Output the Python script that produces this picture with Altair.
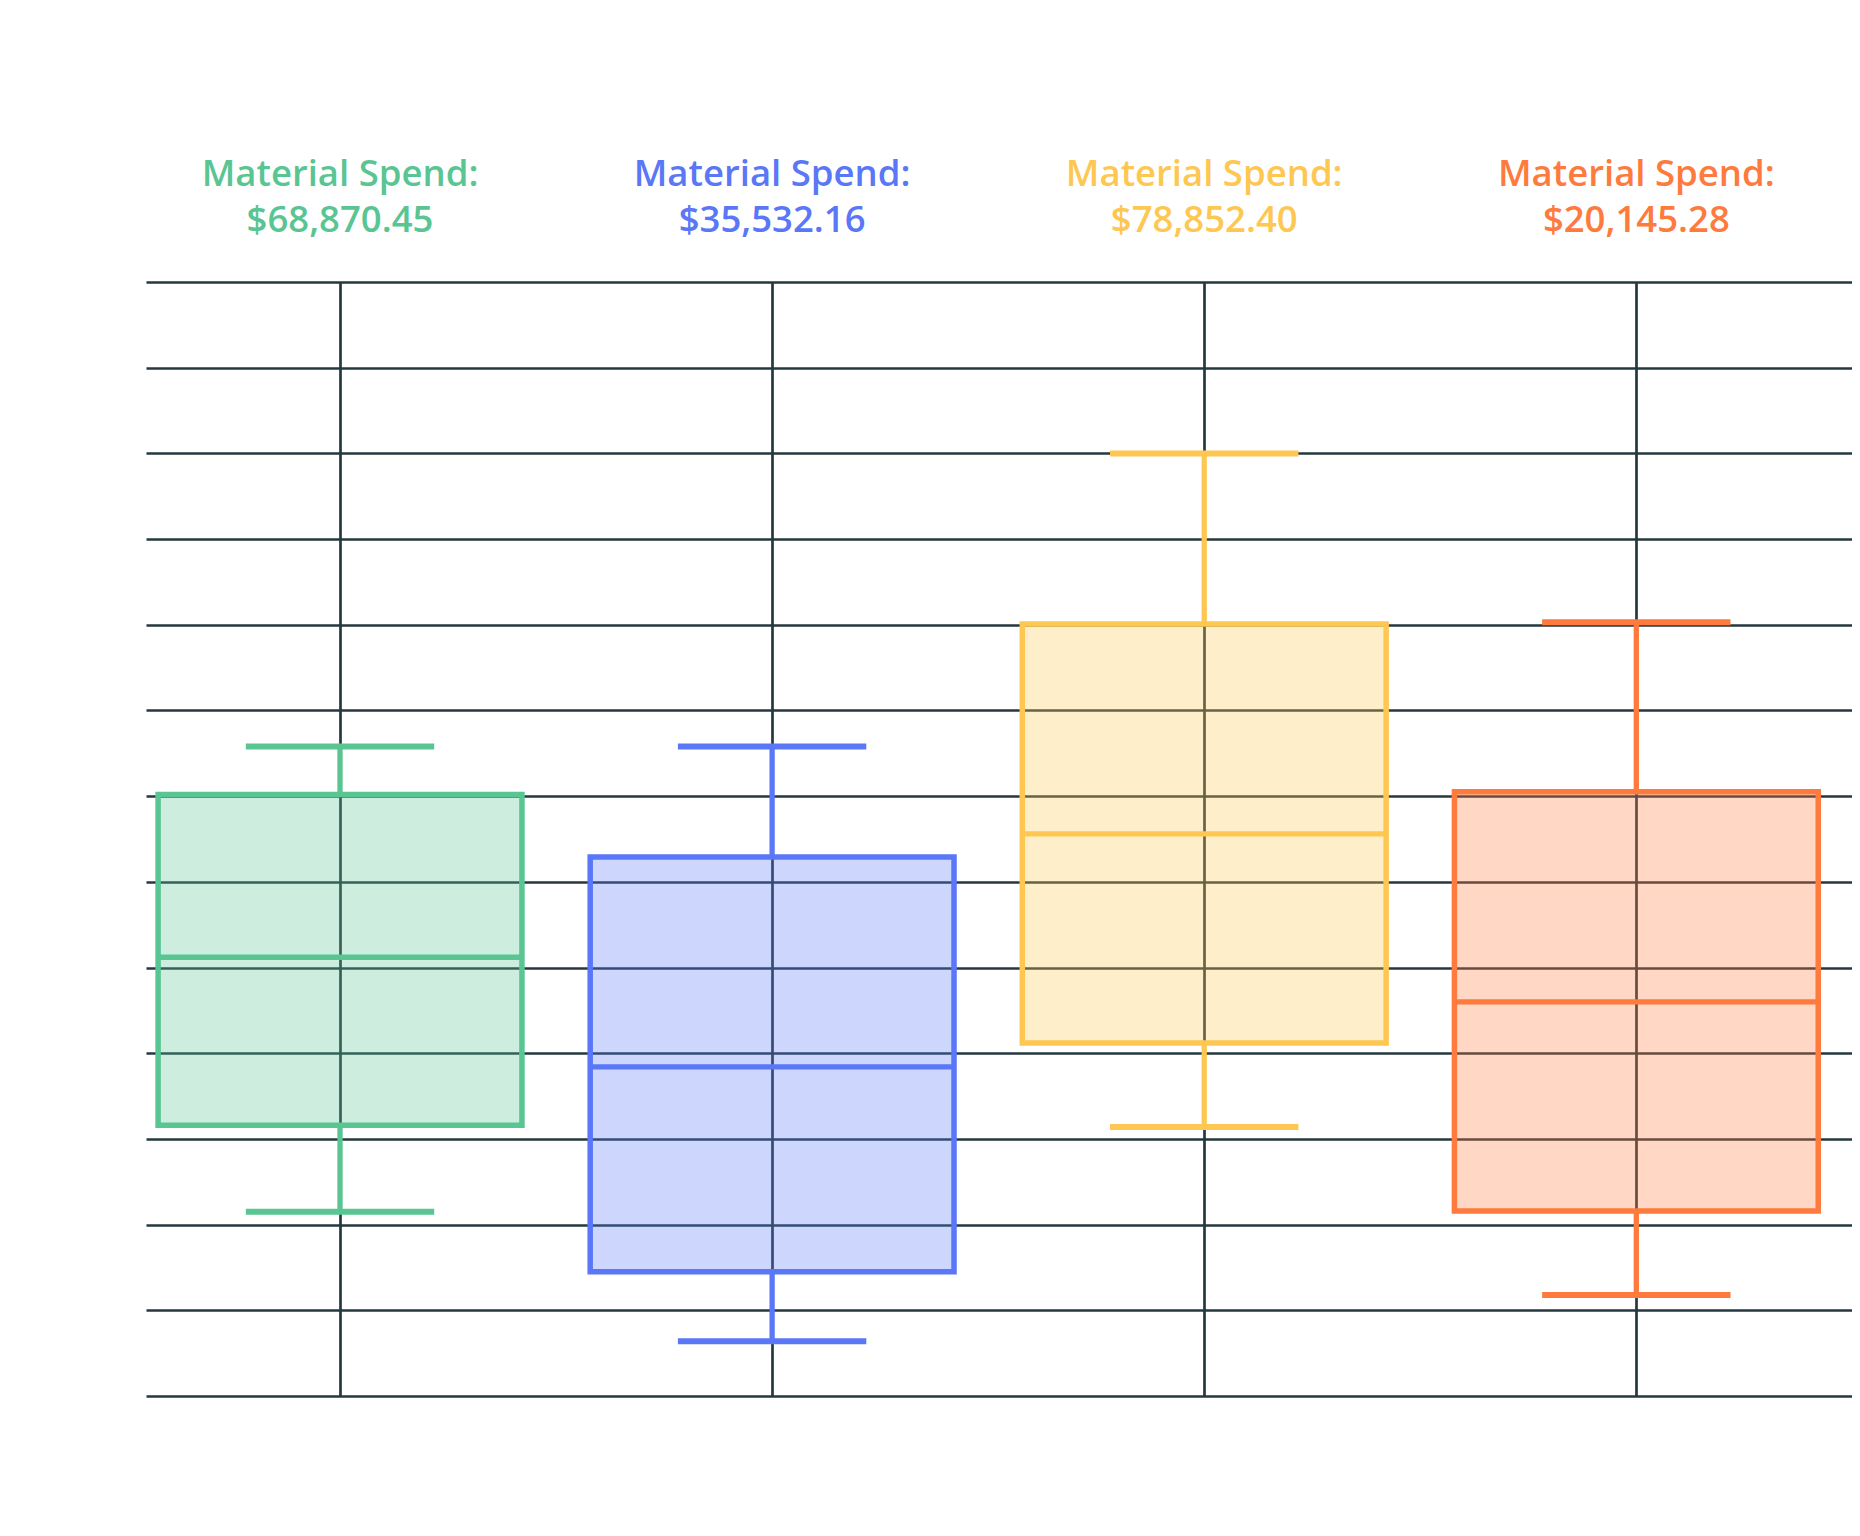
import altair as alt
import pandas as pd

# ---- data (grid units x10) ----
groups = ["Group A", "Group B", "Group C", "Group D"]
positions = [0, 1, 2, 3]
spend_labels = ["$68,870.45", "$35,532.16", "$78,852.40", "$20,145.28"]
mins = [21.5, 6.4, 31.4, 11.8]
q1s = [31.6, 14.5, 41.2, 21.6]
medians = [51.2, 38.4, 65.6, 46.0]
q3s = [70.2, 62.9, 90.1, 70.5]
maxs = [75.8, 75.8, 110.0, 90.3]
colors = ["#59C593", "#5A77F7", "#FEC751", "#FE7A3D"]
grid_values_y = list(range(0, 131, 10))

df = pd.DataFrame({
    "group": groups,
    "idx": positions,
    "spend": spend_labels,
    "min": mins,
    "q1": q1s,
    "median": medians,
    "q3": q3s,
    "max": maxs,
})

GRID = "#25383F"
PLOT_W = 1706
x_scale = alt.Scale(domain=[-0.449, -0.449 + PLOT_W / 432.1], nice=False, zero=False)
y_scale = alt.Scale(domain=[0, 130], nice=False, zero=True)
x_axis = alt.Axis(values=positions, grid=True, labels=False, ticks=False,
                  domain=False, title=None)
y_axis = alt.Axis(values=grid_values_y, grid=True, labels=False, ticks=False,
                  domain=False, title=None)

col = alt.Color("group:N", scale=alt.Scale(domain=groups, range=colors), legend=None)
stk = alt.Stroke("group:N", scale=alt.Scale(domain=groups, range=colors), legend=None)

base = alt.Chart(df).transform_calculate(
    lo="datum.idx - 0.421", hi="datum.idx + 0.421",
    clo="datum.idx - 0.218", chi="datum.idx + 0.218",
    line1="'Material Spend:'",
)

lower_whisker = base.mark_rule(strokeWidth=5.3).encode(
    x=alt.X("idx:Q", scale=x_scale, axis=x_axis),
    y=alt.Y("min:Q", scale=y_scale, axis=y_axis),
    y2="q1:Q",
    color=col,
)
upper_whisker = base.mark_rule(strokeWidth=5.3).encode(
    x=alt.X("idx:Q", scale=x_scale, axis=x_axis),
    y=alt.Y("q3:Q", scale=y_scale, axis=y_axis),
    y2="max:Q",
    color=col,
)
box = base.mark_rect(fillOpacity=0.3, strokeWidth=5.5, strokeOpacity=1).encode(
    x=alt.X("lo:Q", scale=x_scale, axis=x_axis),
    x2="hi:Q",
    y=alt.Y("q1:Q", scale=y_scale, axis=y_axis),
    y2="q3:Q",
    fill=col,
    stroke=stk,
)
median = base.mark_rule(strokeWidth=5.3).encode(
    x=alt.X("lo:Q", scale=x_scale, axis=x_axis),
    x2="hi:Q",
    y=alt.Y("median:Q", scale=y_scale, axis=y_axis),
    color=col,
)
cap_low = base.mark_rule(strokeWidth=6).encode(
    x=alt.X("clo:Q", scale=x_scale, axis=x_axis),
    x2="chi:Q",
    y=alt.Y("min:Q", scale=y_scale, axis=y_axis),
    color=col,
)
cap_high = base.mark_rule(strokeWidth=6).encode(
    x=alt.X("clo:Q", scale=x_scale, axis=x_axis),
    x2="chi:Q",
    y=alt.Y("max:Q", scale=y_scale, axis=y_axis),
    color=col,
)
title1 = base.mark_text(font="Open Sans", fontSize=36.5, fontWeight=600,
                        align="center", baseline="alphabetic").encode(
    x=alt.X("idx:Q", scale=x_scale, axis=x_axis),
    y=alt.value(-96),
    text="line1:N",
    color=col,
)
title2 = base.mark_text(font="Open Sans", fontSize=36.5, fontWeight=600,
                        align="center", baseline="alphabetic").encode(
    x=alt.X("idx:Q", scale=x_scale, axis=x_axis),
    y=alt.value(-50),
    text="spend:N",
    color=col,
)

chart = alt.layer(
    lower_whisker, upper_whisker, box, median, cap_low, cap_high, title1, title2
).properties(
    width=PLOT_W,
    height=1114,
    autosize=alt.AutoSizeParams(type="none"),
    padding={"left": 138, "top": 274, "right": 0, "bottom": 40},
).configure_axis(
    gridColor=GRID, gridWidth=2.7, gridOpacity=1,
).configure_view(
    strokeWidth=0,
)

chart.save("out.html", embed_options={"renderer": "svg", "actions": False})
